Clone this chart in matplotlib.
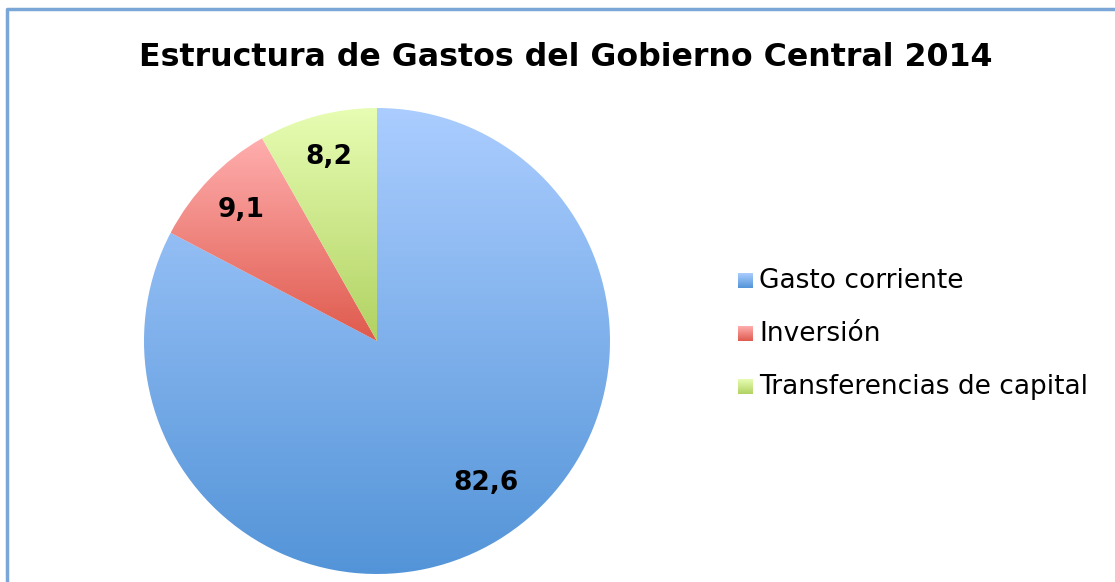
import numpy as np
import matplotlib
matplotlib.use("Agg")
import matplotlib.pyplot as plt
from matplotlib.colors import LinearSegmentedColormap

# datos
categorias = ["Gasto corriente", "Inversión", "Transferencias de capital"]
valores = [82.6, 9.1, 8.2]
etiquetas = ["82,6", "9,1", "8,2"]
titulo = "Estructura de Gastos del Gobierno Central 2014"

# degradados estilo Excel (arriba claro, abajo oscuro)
degradados = [("#abcdff", "#5394d8"),
              ("#ffaeae", "#df5a4d"),
              ("#e7fdb3", "#b1d262")]

W, H = 1115, 582
fig = plt.figure(figsize=(W / 100, H / 100), dpi=100)
fig.patch.set_facecolor("white")

# capa general en pixeles para borde, titulo y leyenda
capa = fig.add_axes([0, 0, 1, 1])
capa.set_xlim(0, W)
capa.set_ylim(H, 0)
capa.axis("off")
capa.plot([7, 7, W], [H, 9, 9], color="#7aa6d8", lw=2.5, solid_capstyle="butt")

capa.text(566, 57, titulo, ha="center", va="center", fontsize=22.8,
          fontweight="bold", family="DejaVu Sans")

# pastel
cx, cy, r = 377, 341, 233
ax = fig.add_axes([(cx - r) / W, (H - cy - r) / H, 2 * r / W, 2 * r / H])
wedges, _ = ax.pie(valores, startangle=90, counterclock=False, radius=1,
                   wedgeprops=dict(linewidth=0))
ax.axis("off")

grad = np.linspace(0, 1, 256).reshape(-1, 1)
for w, (c1, c2), lab, dist in zip(wedges, degradados, etiquetas, [0.768, 0.81, 0.815]):
    w.set_facecolor("none")
    bb = w.get_path().get_extents(w.get_transform() - ax.transData)
    cmap = LinearSegmentedColormap.from_list("g", [c2, c1])
    im = ax.imshow(grad, cmap=cmap, aspect="auto", origin="lower",
                   extent=[bb.x0, bb.x1, bb.y0, bb.y1], zorder=1)
    im.set_clip_path(w)
    ang = np.deg2rad((w.theta1 + w.theta2) / 2)
    if lab == "82,6":
        ang = np.deg2rad(-52.5)
    ax.text(dist * np.cos(ang), dist * np.sin(ang), lab, ha="center", va="center",
            fontsize=19, fontweight="bold", zorder=3)
ax.set_xlim(-1, 1)
ax.set_ylim(-1, 1)

# leyenda
ys = [281, 334, 387]
for nombre, (c1, c2), y in zip(categorias, degradados, ys):
    cmap = LinearSegmentedColormap.from_list("g", [c1, c2])
    capa.imshow(grad, cmap=cmap, aspect="auto", extent=[738, 753, y + 7, y - 8],
                zorder=2)
    capa.text(759, y, nombre, ha="left", va="center", fontsize=19)
capa.set_xlim(0, W)
capa.set_ylim(H, 0)

fig.savefig("out.png", dpi=100)
